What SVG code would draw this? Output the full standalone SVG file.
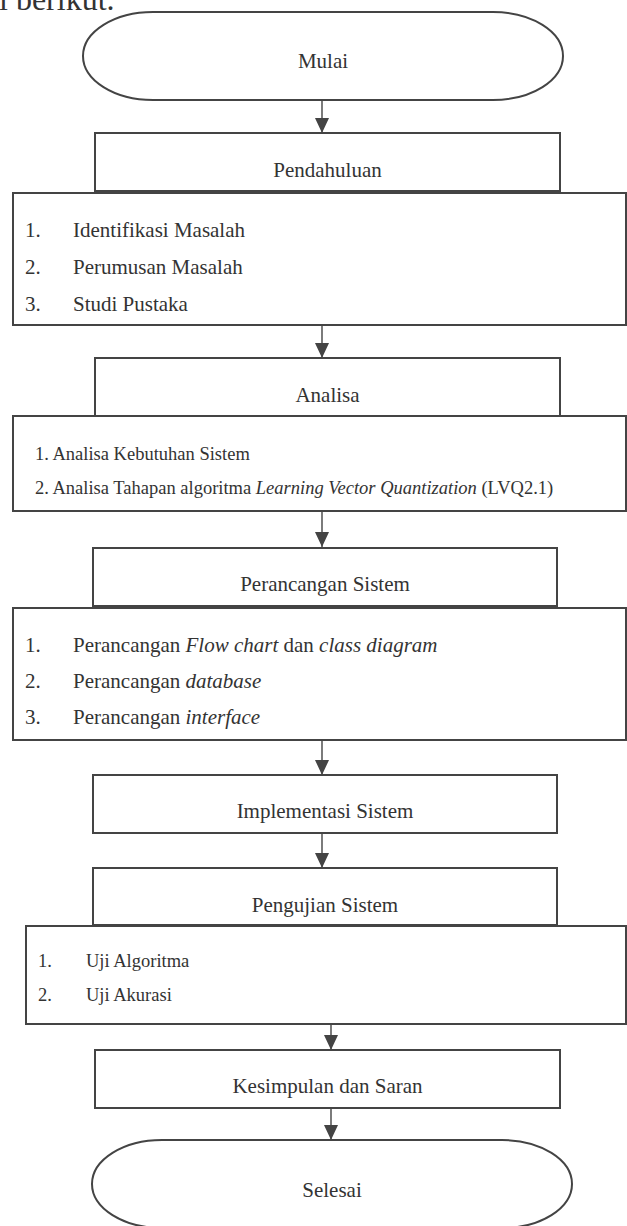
<svg xmlns="http://www.w3.org/2000/svg" width="627" height="1226" viewBox="0 0 627 1226">
<style>
  text { font-family: "Liberation Serif", "Times New Roman", serif; fill: #333; }
  .t { font-size: 21px; text-anchor: middle; }
  .i { font-size: 21px; }
  .s { font-size: 18.5px; }
  .body { font-size: 32px; }
  .shape { fill: #fff; stroke: #444; stroke-width: 2; }
  .conn { stroke: #444; stroke-width: 1.4; fill: none; marker-end: url(#arrow); }
  .em { font-style: italic; }
</style>
<defs>
  <marker id="arrow" markerUnits="userSpaceOnUse" markerWidth="15" markerHeight="14" viewBox="0 0 15 14" refX="15" refY="7" orient="auto">
    <path d="M0,0 L15,7 L0,14 Z" fill="#444"/>
  </marker>
</defs>
<rect width="627" height="1226" fill="#fff"/>
<text class="body" x="-1" y="10">i berikut.</text>

<g id="connectors">
  <line class="conn" x1="322" y1="100" x2="322" y2="133"/>
  <line class="conn" x1="322" y1="325" x2="322" y2="358"/>
  <line class="conn" x1="322" y1="511" x2="322" y2="547"/>
  <line class="conn" x1="322" y1="740" x2="322" y2="775"/>
  <line class="conn" x1="322" y1="833" x2="322" y2="868"/>
  <line class="conn" x1="331" y1="1020" x2="331" y2="1050"/>
  <line class="conn" x1="331" y1="1108" x2="331" y2="1140"/>
</g>

<g id="mulai">
  <path class="shape" d="M153,12 H493 A70,44 0 0 1 493,100 H153 A70,44 0 0 1 153,12 Z"/>
  <text class="t" x="323" y="68">Mulai</text>
</g>

<g id="pendahuluan">
  <rect class="shape" x="95" y="133" width="465" height="58"/>
  <text class="t" x="327.5" y="177">Pendahuluan</text>
</g>
<g id="pendahuluan-detail">
  <rect class="shape" x="13" y="193" width="613" height="132"/>
  <text class="i" x="25" y="237">1.</text><text class="i" x="73" y="237">Identifikasi Masalah</text>
  <text class="i" x="25" y="274">2.</text><text class="i" x="73" y="274">Perumusan Masalah</text>
  <text class="i" x="25" y="311">3.</text><text class="i" x="73" y="311">Studi Pustaka</text>
</g>

<g id="analisa">
  <rect class="shape" x="95" y="358" width="465" height="58"/>
  <text class="t" x="327.5" y="402">Analisa</text>
</g>
<g id="analisa-detail">
  <rect class="shape" x="13" y="416" width="613" height="95"/>
  <text class="s" x="35" y="460">1. Analisa Kebutuhan Sistem</text>
  <text class="s" x="35" y="494">2. Analisa Tahapan algoritma <tspan class="em">Learning Vector Quantization</tspan> (LVQ2.1)</text>
</g>

<g id="perancangan">
  <rect class="shape" x="93" y="548" width="464" height="58"/>
  <text class="t" x="325" y="591">Perancangan Sistem</text>
</g>
<g id="perancangan-detail">
  <rect class="shape" x="13" y="608" width="613" height="132"/>
  <text class="i" x="25" y="652">1.</text><text class="i" x="73" y="652">Perancangan <tspan class="em">Flow chart</tspan> dan <tspan class="em">class diagram</tspan></text>
  <text class="i" x="25" y="688">2.</text><text class="i" x="73" y="688">Perancangan <tspan class="em">database</tspan></text>
  <text class="i" x="25" y="724">3.</text><text class="i" x="73" y="724">Perancangan <tspan class="em">interface</tspan></text>
</g>

<g id="implementasi">
  <rect class="shape" x="93" y="775" width="464" height="58"/>
  <text class="t" x="325" y="818">Implementasi Sistem</text>
</g>

<g id="pengujian">
  <rect class="shape" x="93" y="868" width="464" height="57"/>
  <text class="t" x="325" y="912">Pengujian Sistem</text>
</g>
<g id="pengujian-detail">
  <rect class="shape" x="26" y="926" width="600" height="98"/>
  <text class="s" x="38" y="967">1.</text><text class="s" x="86" y="967">Uji Algoritma</text>
  <text class="s" x="38" y="1001">2.</text><text class="s" x="86" y="1001">Uji Akurasi</text>
</g>

<g id="kesimpulan">
  <rect class="shape" x="95" y="1050" width="465" height="58"/>
  <text class="t" x="327.5" y="1093">Kesimpulan dan Saran</text>
</g>

<g id="selesai">
  <path class="shape" d="M162,1140 H502 A70,44 0 0 1 502,1228 H162 A70,44 0 0 1 162,1140 Z"/>
  <text class="t" x="332" y="1197">Selesai</text>
</g>
</svg>
